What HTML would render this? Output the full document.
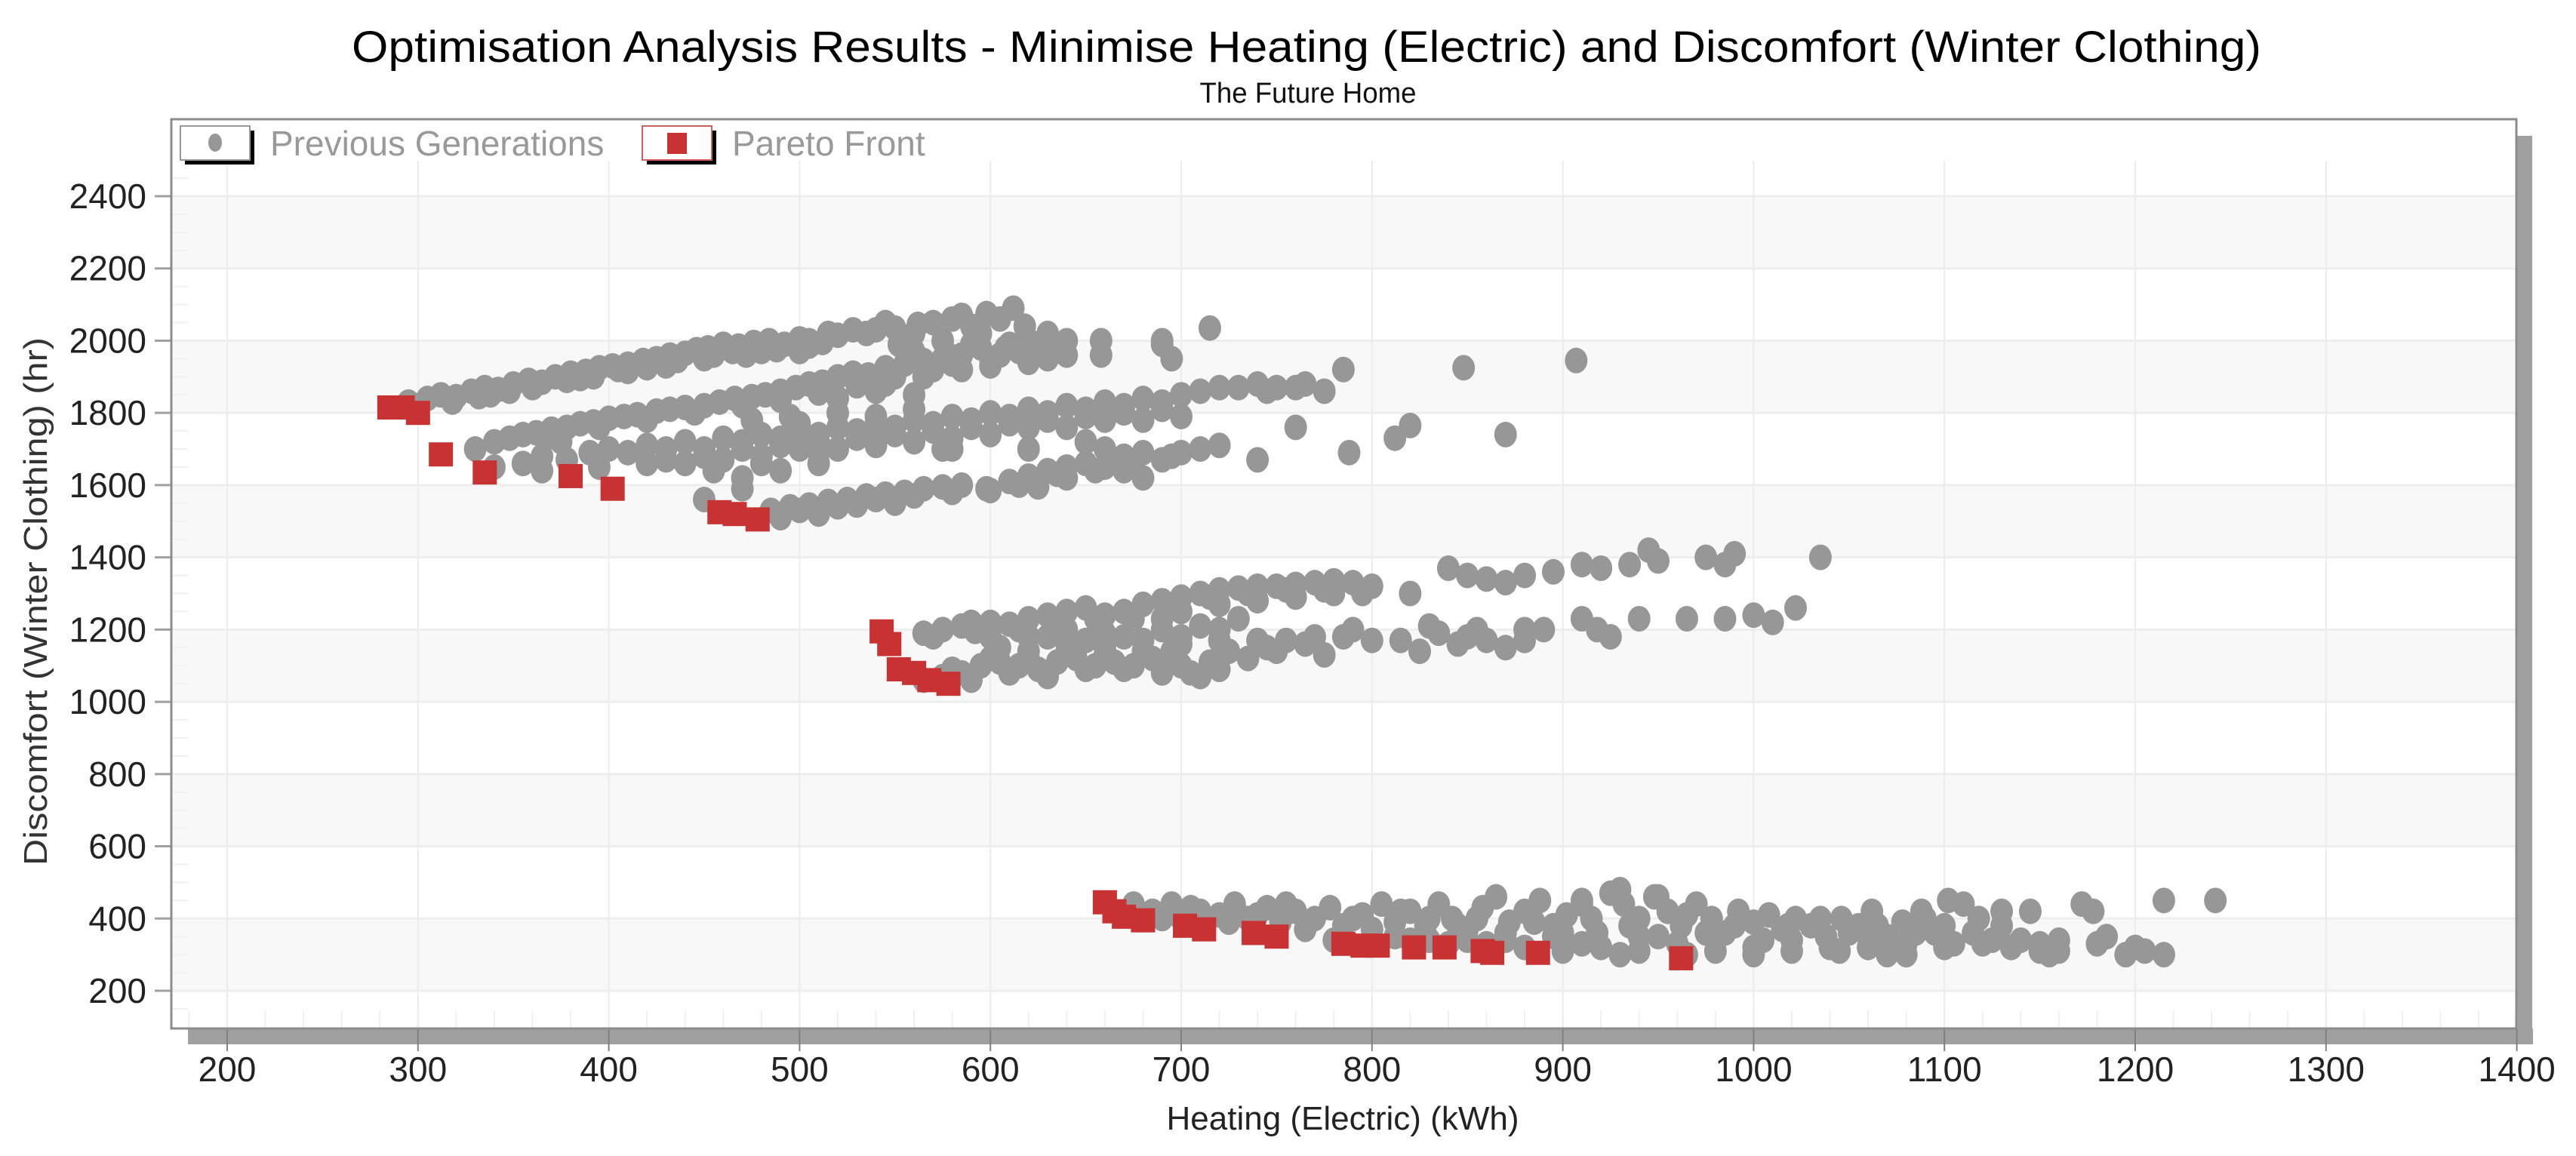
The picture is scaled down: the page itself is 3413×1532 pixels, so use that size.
<!DOCTYPE html>
<html><head><meta charset="utf-8">
<style>
html,body{margin:0;padding:0;background:#fff;}
svg{display:block;font-family:"Liberation Sans",Arial,sans-serif;}
</style></head>
<body>
<svg id="chart" width="3413" height="1532" viewBox="0 0 3413 1532" xmlns="http://www.w3.org/2000/svg">
<text x="1731" y="82" font-size="58" text-anchor="middle" fill="#000" textLength="2530" lengthAdjust="spacingAndGlyphs">Optimisation Analysis Results - Minimise Heating (Electric) and Discomfort (Winter Clothing)</text>
<text x="1733" y="136" font-size="38" text-anchor="middle" fill="#111" textLength="287" lengthAdjust="spacingAndGlyphs">The Future Home</text>
<g id="plot"></g>
<text transform="translate(62,797) rotate(-90)" font-size="44" text-anchor="middle" fill="#333" textLength="700" lengthAdjust="spacingAndGlyphs">Discomfort (Winter Clothing) (hr)</text>
<text x="1779" y="1497" font-size="44" text-anchor="middle" fill="#222">Heating (Electric) (kWh)</text>
</svg>
<script>
const xTicks = [200,300,400,500,600,700,800,900,1000,1100,1200,1300,1400];
const yTicks = [200,400,600,800,1000,1200,1400,1600,1800,2000,2200,2400];
const seriesNames = ["Previous Generations","Pareto Front"];
const prevX = [295,305,312,320,328,335,342,350,358,365,372,380,388,395,402,410,418,425,432,440,446,452,460,468,476,484,492,500,505,512,520,528,540,550,560,570,580,590,598,612,552,575,300,338,360,385,410,430,455,480,500,
355,362,370,378,385,392,400,408,415,425,432,440,450,458,466,475,482,490,498,505,512,520,528,536,545,555,565,575,585,595,605,615,625,630,545,565,585,600,620,640,658,690,340,348,
330,340,355,365,378,390,400,410,420,430,440,450,460,470,480,490,500,510,520,530,540,550,560,570,580,590,600,610,620,630,640,650,660,670,680,690,700,710,720,730,740,750,765,775,440,460,480,500,520,540,560,580,600,620,640,660,680,700,450,470,420,395,365,375,475,495,520,540,560,575,510,
485,495,505,515,525,535,545,555,565,575,585,598,610,620,630,640,650,660,670,680,690,700,710,720,490,510,530,550,600,640,670,680,
658,690,715,695,760,788,812,820,870,785,848,907,740,745,760,
565,575,585,592,600,610,620,630,640,650,660,670,680,690,700,710,720,730,740,750,760,770,780,790,800,820,840,850,860,870,880,895,910,920,935,700,690,720,740,760,780,730,600,620,640,660,
565,575,585,595,605,615,625,635,645,655,665,675,685,695,705,715,725,735,745,755,765,775,785,800,815,825,835,850,860,870,880,890,605,620,640,660,680,700,720,740,590,700,710,
945,950,975,985,990,1035,910,918,925,940,965,985,1000,1010,1022,855,
675,685,695,700,710,720,728,735,745,752,760,770,778,785,795,805,812,820,828,835,842,850,858,865,872,880,888,895,902,910,918,925,932,940,948,955,962,970,978,985,992,1000,1008,1015,1022,1030,1038,1046,1055,1062,1070,1078,1088,1095,1102,1110,1118,1125,1135,1145,1150,1160,1172,1178,1195,1205,1215,1242,1215,
780,800,820,840,860,880,900,920,940,960,980,1000,1020,1040,1060,1080,1100,1120,1150,900,940,980,1020,1060,1080,950,930,910,1105,
300,318,332,348,362,378,392,405,420,436,450,465,472,488,505,515,535,545,562,585,605,595,618,630,640,620,608,560,578,590,
370,395,420,445,470,490,510,530,550,570,580,600,610,635,560,520,540,
430,450,470,490,510,530,550,570,590,610,630,650,670,690,500,540,580,620,650,660,470,490,510,455,480,
500,520,540,560,580,615,635,655,675,695,625,
570,590,615,635,655,675,695,715,735,755,775,795,630,650,670,690,710,580,600,620,640,660,680,700,720,750,770,790,610,630,650,670,690,720,830,845,880,
690,705,725,740,755,765,790,800,815,830,845,855,870,885,895,915,935,950,965,975,990,1005,1018,1035,1050,1065,1085,1100,1115,1130,1140,1160,1180,1200,1155,1070,1045,1000,965,930,910,870,850,830,812,1090,1130,1185];
const prevY = [1830,1840,1850,1845,1860,1870,1865,1880,1890,1885,1900,1910,1915,1925,1930,1935,1945,1950,1960,1965,1975,1980,1990,1985,1995,2000,1990,2005,1985,1995,2015,2030,2030,2035,2020,2050,2060,2040,2075,2090,1990,2000,1810,1850,1870,1895,1915,1930,1960,1970,1970,
1740,1745,1755,1760,1770,1775,1785,1790,1795,1805,1810,1815,1820,1830,1840,1845,1850,1860,1870,1880,1885,1900,1910,1905,1925,1935,1945,1950,1960,1980,1960,1970,1990,1950,1880,1900,1920,1930,1940,1960,1960,1990,1720,1730,
1700,1650,1660,1680,1670,1690,1700,1690,1710,1700,1720,1700,1730,1720,1740,1730,1750,1740,1760,1750,1770,1760,1780,1770,1790,1780,1800,1790,1810,1800,1820,1810,1830,1820,1840,1830,1850,1860,1870,1870,1880,1870,1880,1860,1660,1670,1680,1700,1700,1710,1720,1730,1740,1760,1760,1780,1780,1790,1560,1620,1660,1650,1640,1720,1780,1790,1800,1790,1810,1700,1660,
1530,1540,1545,1555,1560,1570,1575,1580,1590,1595,1600,1590,1610,1625,1640,1650,1660,1650,1680,1690,1670,1690,1700,1710,1510,1520,1545,1550,1585,1620,1640,1620,
2000,2000,2035,1950,1760,1690,1730,1765,1740,1920,1925,1945,1670,1860,1870,
1190,1200,1210,1195,1220,1215,1230,1240,1250,1260,1240,1250,1270,1280,1290,1300,1310,1315,1320,1320,1325,1330,1335,1330,1320,1300,1370,1350,1340,1330,1350,1360,1380,1370,1380,1250,1230,1270,1280,1290,1300,1230,1180,1180,1200,1190,
1060,1070,1080,1100,1110,1100,1090,1110,1120,1100,1110,1100,1120,1140,1080,1110,1140,1120,1150,1170,1160,1130,1180,1170,1170,1140,1190,1180,1170,1150,1200,1200,1150,1140,1160,1150,1170,1180,1200,1170,1060,1100,1070,
1420,1390,1400,1380,1410,1400,1230,1200,1180,1230,1230,1230,1240,1220,1260,1200,
440,420,440,400,420,410,440,400,430,390,420,400,430,380,410,440,390,420,380,440,400,370,430,460,390,420,450,380,410,440,360,470,440,400,460,420,380,440,400,360,420,390,410,370,400,380,350,400,380,420,350,390,420,360,450,440,400,340,320,420,330,310,440,420,300,310,450,450,300,
340,330,340,330,330,320,310,320,310,330,310,300,310,320,320,330,320,330,310,360,350,340,340,350,300,460,480,450,330,
1820,1830,1845,1860,1880,1890,1900,1920,1925,1945,1950,1970,1960,1975,2000,2020,2020,2050,2045,2070,2060,2020,2040,2020,2000,2000,1980,1970,1960,1990,
1735,1760,1780,1800,1820,1835,1855,1875,1900,1920,1935,1950,1990,1975,1850,1840,1860,
1670,1680,1700,1710,1720,1730,1740,1750,1760,1770,1780,1790,1800,1810,1770,1740,1700,1700,1720,1700,1590,1640,1690,1640,1660,
1530,1540,1560,1570,1580,1600,1630,1640,1660,1680,1595,
1180,1220,1200,1220,1230,1230,1260,1290,1300,1310,1310,1300,1180,1170,1180,1200,1210,1090,1120,1120,1140,1130,1140,1160,1170,1140,1180,1200,1080,1070,1090,1090,1080,1090,1210,1160,1170,
400,430,390,410,440,370,400,370,420,400,380,400,360,390,350,400,380,350,410,360,380,340,380,400,360,380,360,380,360,380,340,340,330,320,300,300,310,320,300,300,330,340,340,340,350,400,420,350];
const paretoX = [285,292,300,312,335,380,402,458,466,478,543,547,552,560,568,578,660,665,670,680,702,712,738,750,785,795,803,822,838,858,863,887,962];
const paretoY = [1815,1815,1800,1685,1635,1625,1590,1525,1520,1505,1195,1160,1090,1080,1060,1050,445,420,405,395,380,370,360,350,330,325,325,320,320,310,305,305,290];

const NS='http://www.w3.org/2000/svg';
const X0=301, PX=2.528, Y0=260, PY=0.47864;
const L=227, T=158, R=3334, B=1363;
function sx(v){return X0+(v-200)*PX;}
function sy(v){return Y0+(2400-v)*PY;}
function mk(tag,attrs,parent){const e=document.createElementNS(NS,tag);for(const k in attrs)e.setAttribute(k,attrs[k]);parent.appendChild(e);return e;}
const svg=document.getElementById('chart');
const g=document.getElementById('plot');

let e=mk('rect',{x:L+22,y:B,width:R-L,height:21,fill:'#a0a0a0'},g);


e=mk('rect',{x:R,y:T+22,width:21,height:B-T+21-22,fill:'#a0a0a0'},g);


e=mk('rect',{x:L,y:T,width:R-L,height:B-T,fill:'#fff'},g);


for(let i=0;i<yTicks.length-1;i++){
  const hi=yTicks[yTicks.length-1-i], lo=yTicks[yTicks.length-2-i];
  if(i%2===0){
    e=mk('rect',{x:L+2,y:sy(hi),width:R-L-4,height:sy(lo)-sy(hi),fill:'#f8f8f8'},g);
    
    
  }
}
for(let v=180;v<=1400;v+=20){
  e=mk('line',{x1:sx(v),x2:sx(v),y1:B-24,y2:B,stroke:'#f0f0f0','stroke-width':2},g);
  
  
}
for(let v=150;v<=2600;v+=50){
  if(sy(v)<T+60||sy(v)>B)continue;
  e=mk('line',{x1:L+2,x2:L+22,y1:sy(v),y2:sy(v),stroke:'#f0f0f0','stroke-width':2},g);
  
  
}
yTicks.forEach(v=>{
  e=mk('line',{x1:L,x2:R,y1:sy(v),y2:sy(v),stroke:'#eeeeee','stroke-width':3},g);
  
  
  e=mk('line',{x1:205,x2:L,y1:sy(v),y2:sy(v),stroke:'#a0a0a0','stroke-width':3},g);
  
  
  e=mk('text',{x:194,y:sy(v)+16,'font-size':46,'text-anchor':'end',fill:'#222'},g);
  e.textContent=v;
  
  
});
xTicks.forEach(v=>{
  if(v<1400){
    e=mk('line',{x1:sx(v),x2:sx(v),y1:213,y2:B,stroke:'#ececec','stroke-width':2},g);
    
    
  }
  e=mk('line',{x1:sx(v),x2:sx(v),y1:B,y2:B+30,stroke:'#808080','stroke-width':2},g);
  
  
  e=mk('text',{x:sx(v),y:1433,'font-size':46,'text-anchor':'middle',fill:'#222'},g);
  e.textContent=v;
  
  
});
e=mk('rect',{x:L,y:T,width:R-L,height:B-T,fill:'none',stroke:'#8c8c8c','stroke-width':3},g);



const pg=mk('g',{},g);


for(let i=0;i<prevX.length;i++){
  e=mk('ellipse',{cx:sx(prevX[i]),cy:sy(prevY[i]),rx:15,ry:17,fill:'#979797'},pg);
  
  
}
const rg=mk('g',{},g);


for(let i=0;i<paretoX.length;i++){
  e=mk('rect',{x:sx(paretoX[i])-16,y:sy(paretoY[i])-16,width:32,height:32,fill:'#c83232'},rg);
  
  
}

const lg=mk('g',{},g);


const l1=mk('g',{},lg);


mk('rect',{x:245,y:173,width:92,height:45,fill:'#000'},l1);
mk('rect',{x:239,y:167,width:92,height:45,fill:'#fff',stroke:'#999','stroke-width':2},l1);
mk('ellipse',{cx:285,cy:189,rx:9,ry:12,fill:'#979797'},l1);
e=mk('text',{x:358,y:206,'font-size':46,fill:'#999'},l1);
e.textContent=seriesNames[0];


const l2=mk('g',{},lg);


mk('rect',{x:857,y:173,width:92,height:45,fill:'#000'},l2);
mk('rect',{x:851,y:167,width:92,height:45,fill:'#fff',stroke:'#d06060','stroke-width':2},l2);
mk('rect',{x:884,y:176,width:26,height:28,fill:'#c83232'},l2);
e=mk('text',{x:970,y:206,'font-size':46,fill:'#999'},l2);
e.textContent=seriesNames[1];


</script>
</body></html>
